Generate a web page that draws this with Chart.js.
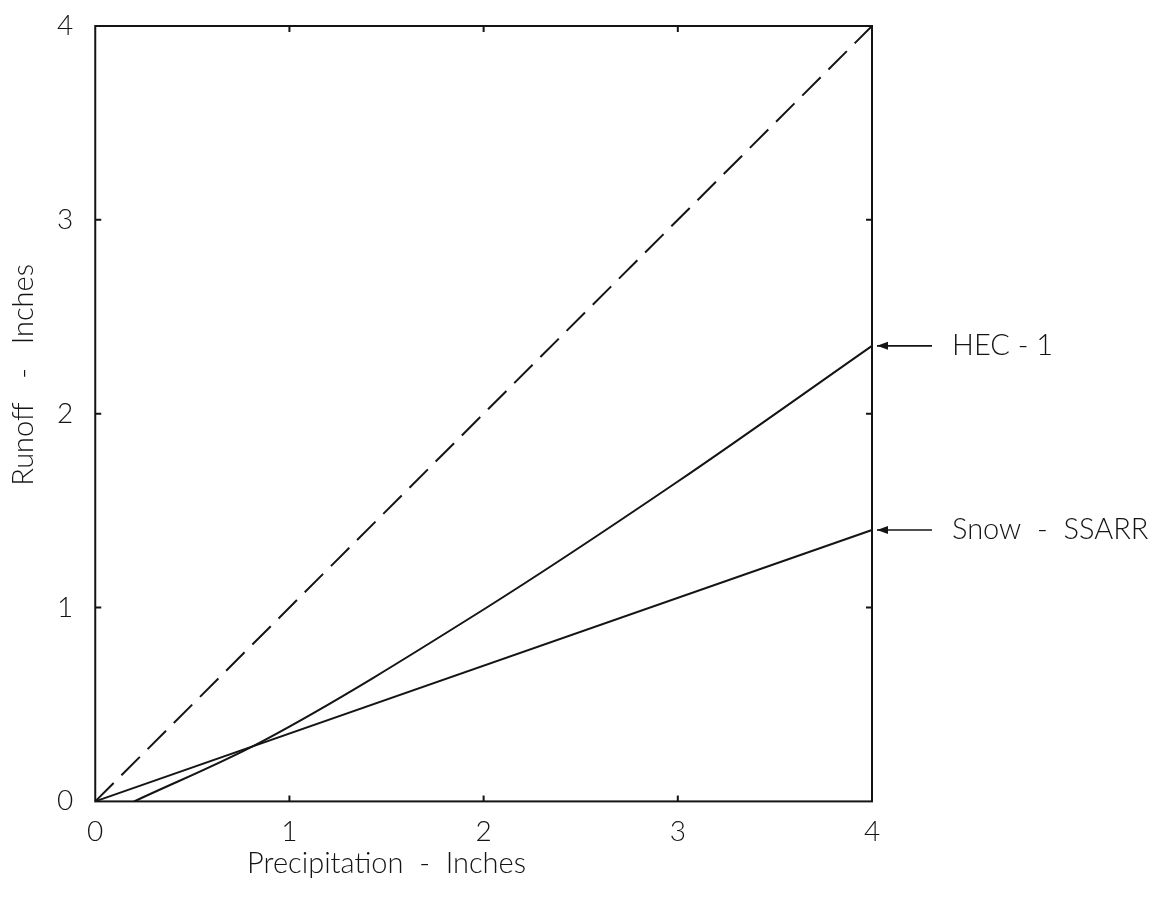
<!DOCTYPE html>
<html>
<head>
<meta charset="utf-8">
<style>
  html, body { margin: 0; padding: 0; background: #ffffff; }
  #wrap { width: 1162px; height: 899px; position: relative; }
</style>
<script src="https://cdn.jsdelivr.net/npm/chart.js@4.4.1/dist/chart.umd.min.js"></script>
</head>
<body>
<div id="wrap"><canvas id="chart" width="1162" height="899"></canvas></div>
<script>
// Axis ticks (inches)
const xTicks = [0, 1, 2, 3, 4];
const yTicks = [0, 1, 2, 3, 4];

// Equal precipitation / runoff reference line
const equalX = [0, 4];
const equalY = [0, 4];

// HEC-1 runoff curve
const hecX = [0.2, 0.86, 2.0, 3.0, 4.0];
const hecY = [0.0, 0.31, 0.99, 1.65, 2.35];

// Snow - SSARR runoff line
const snowX = [0, 4];
const snowY = [0, 1.4];

const FONT = "'Lato', 'DejaVu Sans', sans-serif";
const INK = '#141414';

const toPoints = (xs, ys) => xs.map((x, i) => ({ x: x, y: ys[i] }));

// Frame, inward ticks, axis titles and arrow callouts
const framePlugin = {
  id: 'frame',
  afterDatasetsDraw(chart) {
    const { ctx, chartArea: a, scales } = chart;
    const xs = scales.x, ys = scales.y;
    ctx.save();
    ctx.strokeStyle = INK;
    ctx.lineWidth = 2;
    ctx.strokeRect(a.left, a.top, a.right - a.left, a.bottom - a.top);

    // short inward ticks on all four sides
    const t = 6;
    xTicks.slice(1, -1).forEach(v => {
      const px = xs.getPixelForValue(v);
      ctx.beginPath();
      ctx.moveTo(px, a.bottom); ctx.lineTo(px, a.bottom - t);
      ctx.moveTo(px, a.top); ctx.lineTo(px, a.top + t);
      ctx.stroke();
    });
    yTicks.slice(1, -1).forEach(v => {
      const py = ys.getPixelForValue(v);
      ctx.beginPath();
      ctx.moveTo(a.left, py); ctx.lineTo(a.left + t, py);
      ctx.moveTo(a.right, py); ctx.lineTo(a.right - t, py);
      ctx.stroke();
    });

    // axis titles
    ctx.fillStyle = INK;
    ctx.font = '300 29px ' + FONT;
    ctx.textAlign = 'center';
    ctx.textBaseline = 'middle';
    ctx.fillText('Precipitation  -  Inches', xs.getPixelForValue(1.5), 864);
    ctx.save();
    ctx.translate(24, ys.getPixelForValue(2.2));
    ctx.rotate(-Math.PI / 2);
    ctx.fillText('Runoff   -   Inches', 0, 0);
    ctx.restore();

    // arrow callouts naming the two runoff methods
    const callout = (yVal, label) => {
      const py = ys.getPixelForValue(yVal);
      const x0 = a.right + 5, x1 = a.right + 60;
      ctx.lineWidth = 1.6;
      ctx.beginPath();
      ctx.moveTo(x0, py); ctx.lineTo(x1, py);
      ctx.stroke();
      ctx.beginPath();
      ctx.moveTo(x0, py);
      ctx.lineTo(x0 + 11, py - 4);
      ctx.lineTo(x0 + 11, py + 4);
      ctx.closePath();
      ctx.fill();
      ctx.textAlign = 'left';
      ctx.fillText(label, a.right + 80, py);
    };
    callout(hecY[hecY.length - 1], 'HEC - 1');
    callout(snowY[snowY.length - 1], 'Snow  -  SSARR');
    ctx.restore();
  }
};

new Chart(document.getElementById('chart'), {
  type: 'line',
  data: {
    datasets: [
      {
        label: 'Precipitation = Runoff',
        data: toPoints(equalX, equalY),
        borderColor: INK,
        borderWidth: 2,
        borderDash: [26, 11],
        pointRadius: 0,
        tension: 0
      },
      {
        label: 'HEC-1',
        data: toPoints(hecX, hecY),
        borderColor: INK,
        borderWidth: 2,
        pointRadius: 0,
        tension: 0.2,
        cubicInterpolationMode: 'monotone'
      },
      {
        label: 'Snow - SSARR',
        data: toPoints(snowX, snowY),
        borderColor: INK,
        borderWidth: 2,
        pointRadius: 0,
        tension: 0
      }
    ]
  },
  options: {
    responsive: false,
    animation: false,
    clip: false,
    layout: { padding: { left: 35, right: 290, top: 26, bottom: 36 } },
    plugins: {
      legend: { display: false },
      tooltip: { enabled: false }
    },
    scales: {
      x: {
        type: 'linear',
        min: 0, max: 4,
        afterBuildTicks: s => { s.ticks = xTicks.map(v => ({ value: v })); },
        afterFit: s => { s.paddingLeft = 0; s.paddingRight = 0; },
        grid: { display: false, drawTicks: false },
        border: { display: false },
        ticks: { color: INK, font: { family: FONT, size: 28, weight: '300' }, padding: 14 }
      },
      y: {
        type: 'linear',
        min: 0, max: 4,
        afterBuildTicks: s => { s.ticks = yTicks.map(v => ({ value: v })); },
        afterFit: s => { s.paddingTop = 0; s.paddingBottom = 0; },
        grid: { display: false, drawTicks: false },
        border: { display: false },
        ticks: { color: INK, font: { family: FONT, size: 28, weight: '300' }, padding: 22 }
      }
    }
  },
  plugins: [framePlugin]
});
</script>
</body>
</html>
